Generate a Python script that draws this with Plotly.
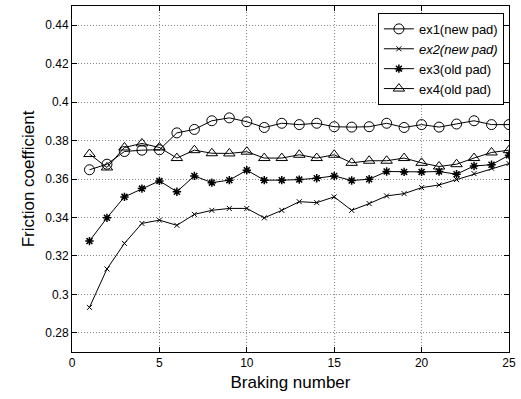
import plotly.graph_objects as go

braking = list(range(1, 26))
ex1 = [0.3648, 0.3677, 0.3743, 0.3750, 0.3752, 0.3840, 0.3858, 0.3903, 0.3918, 0.3898,
       0.3868, 0.3890, 0.3883, 0.3890, 0.3872, 0.3870, 0.3872, 0.3890, 0.3868, 0.3883,
       0.3870, 0.3886, 0.3903, 0.3883, 0.3883]
ex2 = [0.2932, 0.3132, 0.3265, 0.3369, 0.3386, 0.3359, 0.3416, 0.3437, 0.3447, 0.3447,
       0.3398, 0.3437, 0.3482, 0.3477, 0.3507, 0.3437, 0.3472, 0.3512, 0.3524, 0.3555,
       0.3569, 0.3597, 0.3628, 0.3656, 0.3680]
ex3 = [0.3277, 0.3398, 0.3507, 0.3550, 0.3590, 0.3534, 0.3616, 0.3581, 0.3594, 0.3646,
       0.3594, 0.3594, 0.3597, 0.3604, 0.3616, 0.3592, 0.3599, 0.3639, 0.3637, 0.3637,
       0.3639, 0.3625, 0.3668, 0.3674, 0.3724]
ex4 = [0.3730, 0.3660, 0.3764, 0.3785, 0.3764, 0.3709, 0.3750, 0.3734, 0.3733, 0.3742,
       0.3709, 0.3709, 0.3726, 0.3709, 0.3726, 0.3684, 0.3695, 0.3695, 0.3709, 0.3684,
       0.3665, 0.3677, 0.3709, 0.3738, 0.3750]
names = ["ex1(new pad)", "<i>ex2(new pad)</i>", "ex3(old pad)", "ex4(old pad)"]
x_ticks = [0, 5, 10, 15, 20, 25]
y_ticks = [0.28, 0.30, 0.32, 0.34, 0.36, 0.38, 0.40, 0.42, 0.44]
y_tick_text = ["0.28", "0.3", "0.32", "0.34", "0.36", "0.38", "0.4", "0.42", "0.44"]

fig = go.Figure()
styles = [
    dict(symbol="circle-open", size=10, line=dict(width=1, color="black")),
    dict(symbol="x-thin", size=5, line=dict(width=1, color="black")),
    dict(symbol="asterisk", size=7, line=dict(width=1.5, color="black")),
    dict(symbol="triangle-up-open", size=10, line=dict(width=1, color="black")),
]
for name, ys, mk in zip(names, [ex1, ex2, ex3, ex4], styles):
    fig.add_trace(go.Scatter(
        x=braking, y=ys, name=name, mode="lines+markers",
        line=dict(color="black", width=1),
        marker=dict(color="black", **mk),
    ))

axis_common = dict(
    showline=True, linecolor="black", linewidth=1, mirror="ticks",
    ticks="inside", ticklen=5, tickcolor="black",
    showgrid=True, gridcolor="#888888", griddash="1px,2px", gridwidth=1,
    zeroline=False,
    tickfont=dict(family="Liberation Sans, Arial", size=12, color="black"),
)
fig.update_xaxes(range=[0, 25], tickvals=x_ticks,
                 title=dict(text="Braking number", font=dict(family="Liberation Sans, Arial", size=17, color="black"), standoff=6),
                 **axis_common)
fig.update_yaxes(range=[0.27, 0.45], tickvals=y_ticks, ticktext=y_tick_text,
                 title=dict(text="Friction coefficient", font=dict(family="Liberation Sans, Arial", size=17, color="black"), standoff=6),
                 **axis_common)

fig.update_layout(
    width=521, height=399,
    margin=dict(l=72, r=12, t=6, b=47),
    paper_bgcolor="white", plot_bgcolor="white",
    font=dict(family="Liberation Sans, Arial", color="black"),
    legend=dict(x=0.70, y=0.98, xanchor="left", yanchor="top",
                bgcolor="white", bordercolor="black", borderwidth=1,
                font=dict(family="Liberation Sans, Arial", size=13, color="black"),
                tracegroupgap=0, itemwidth=30),
    showlegend=True,
)
fig.write_html("out.html")
